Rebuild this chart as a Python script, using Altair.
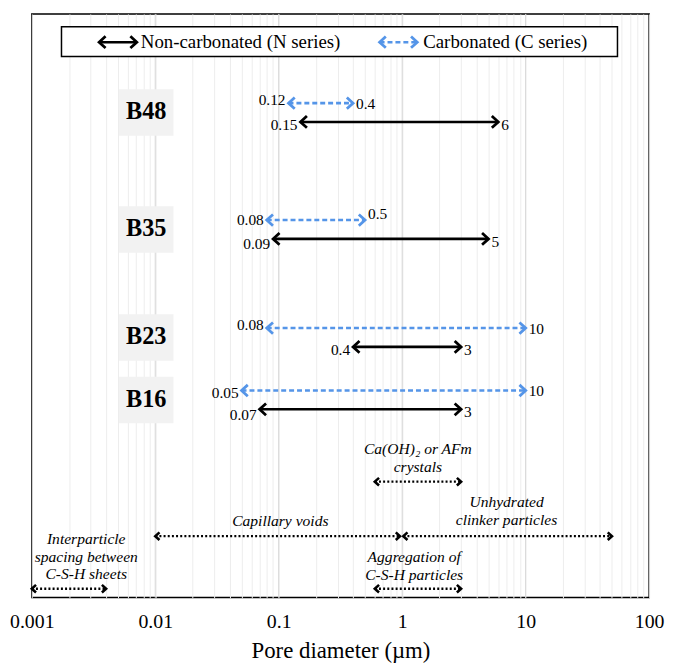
import altair as alt
import pandas as pd

# ---------------- data ----------------
samples = ["B48", "B35", "B23", "B16"]
n_min = [0.15, 0.09, 0.4, 0.07]
n_max = [6, 5, 3, 3]
c_min = [0.12, 0.08, 0.08, 0.05]
c_max = [0.4, 0.5, 10, 10]

ann_lines = [["Ca(OH)\u2082 or AFm", "crystals"], ["Capillary voids"],
             ["Unhydrated", "clinker particles"],
             ["Interparticle", "spacing between", "C-S-H sheets"],
             ["Aggregation of", "C-S-H particles"]]
ann_lo = [0.6, 0.01, 1.02, 0.001, 0.6]
ann_hi = [3, 0.96, 50, 0.004, 3]

legend_labels = ["Non-carbonated (N series)", "Carbonated (C series)"]
tick_decades = [0.001, 0.01, 0.1, 1, 10, 100]

# ---------------- layout (y in px from top of plot area) ----------------
W, H = 623, 589
row_y = [99.5, 217.5, 326.5, 389.5]
half_gap = 9.5
c_dy_left = [-3, 0, -3, 3]
c_dy_right = [1, -6, 1, 1]
n_dy_left = [3, 5, 3, 6]
n_dy_right = [3, 3, 3, 3]
box_x = (0.00509, 0.01405)
box_text_x = 0.00845
box_half = 23.5

ann_y = [472, 527, 527, 580, 580]
ann_text_x = [1.34, 0.103, 7.0, 0.00276, 1.25]
ann_text_y = [[439, 457], [512], [493, 511], [530, 548, 565], [548, 566]]

leg_box = dict(x=0.00174, x2=55.4, y=13, y2=43)
leg_y = 28.5
leg_arrow = [(0.00351, 0.00709), (0.656, 1.324)]
leg_text_x = [0.00764, 1.48]

BLUE = "#5595e8"
FONT = "Liberation Serif"

# ---------------- frames ----------------
lines = []
labels = []
for i, s in enumerate(samples):
    yc = row_y[i] - half_gap
    yn = row_y[i] + half_gap
    lines.append(dict(series="C", x=c_min[i], x2=c_max[i], y=yc))
    lines.append(dict(series="N", x=n_min[i], x2=n_max[i], y=yn))
    labels.append(dict(side="L", x=c_min[i], y=yc + c_dy_left[i], t=f"{c_min[i]:g}"))
    labels.append(dict(side="R", x=c_max[i], y=yc + c_dy_right[i], t=f"{c_max[i]:g}"))
    labels.append(dict(side="L", x=n_min[i], y=yn + n_dy_left[i], t=f"{n_min[i]:g}"))
    labels.append(dict(side="R", x=n_max[i], y=yn + n_dy_right[i], t=f"{n_max[i]:g}"))
for k, (a, b) in enumerate(leg_arrow):
    lines.append(dict(series=["N", "C"][k], x=a, x2=b, y=leg_y))
lines_df = pd.DataFrame(lines)
n_df = lines_df[lines_df["series"] == "N"].reset_index(drop=True)
c_df = lines_df[lines_df["series"] == "C"].reset_index(drop=True)
labels_df = pd.DataFrame(labels)
lab_l_df = labels_df[labels_df["side"] == "L"].reset_index(drop=True)
lab_r_df = labels_df[labels_df["side"] == "R"].reset_index(drop=True)

boxes_df = pd.DataFrame([dict(s=s, x=box_x[0], x2=box_x[1], y=row_y[i] - box_half,
                              y2=row_y[i] + box_half, tx=box_text_x, ty=row_y[i])
                         for i, s in enumerate(samples)])

ann_df = pd.DataFrame([dict(x=ann_lo[k], x2=ann_hi[k], y=ann_y[k]) for k in range(len(ann_lo))])
ann_txt_df = pd.DataFrame([dict(t=line, x=ann_text_x[k], y=ann_text_y[k][j])
                           for k, ls in enumerate(ann_lines) for j, line in enumerate(ls)])

leg_box_df = pd.DataFrame([leg_box])
leg_txt_df = pd.DataFrame([dict(t=legend_labels[k], x=leg_text_x[k], y=leg_y) for k in range(2)])
dec_df = pd.DataFrame({"x": tick_decades[1:-1], "y": [0] * 4, "y2": [H] * 4})

grid_vals = []
for d in tick_decades[:-1]:
    for m in range(1, 10):
        grid_vals.append(round(d * m, 6))
grid_vals.append(tick_decades[-1])

is_dec = "abs(log(datum.value)/LN10 - round(log(datum.value)/LN10)) < 0.000001"

xscale = alt.Scale(type="log", domain=[0.001, 100], nice=False)
yscale = alt.Scale(domain=[0, H], reverse=True, nice=False, zero=False)
x_axis = alt.Axis(values=grid_vals, grid=True, ticks=False, domain=False,
                  labelExpr=f"{is_dec} ? format(datum.value, '~g') : ''",
                  labelOverlap=False, labelFlush=False,
                  labelFont=FONT, labelFontSize=20, labelColor="black",
                  labelPadding=14,
                  gridColor="#ededed", gridWidth=1,
                  title="Pore diameter (\u00b5m)", titleFont=FONT,
                  titleFontSize=23, titleFontWeight="normal", titleColor="black",
                  titlePadding=8)


def X(f):
    return alt.X(f, type="quantitative", scale=xscale, axis=x_axis)


def Y(f):
    return alt.Y(f, type="quantitative", scale=yscale, axis=None)


LEFT = "M1.1,-1L0,0L1.1,1"
RIGHT = "M-1.1,-1L0,0L-1.1,1"


def arrow(df, col, dash, width, size):
    base = alt.Chart(df)
    kw = dict(strokeWidth=width, color=col)
    if dash:
        kw["strokeDash"] = dash
    r = base.mark_rule(**kw).encode(x=X("x"), x2="x2:Q", y=Y("y"))
    hl = base.mark_point(shape=LEFT, filled=False, size=size, strokeWidth=width + 0.2,
                         color=col, opacity=1).encode(x=X("x"), y=Y("y"))
    hr = base.mark_point(shape=RIGHT, filled=False, size=size, strokeWidth=width + 0.2,
                         color=col, opacity=1).encode(x=X("x2"), y=Y("y"))
    return [r, hl, hr]


dec_rules = alt.Chart(dec_df).mark_rule(color="#d6d6d6", strokeWidth=1).encode(
    x=X("x"), y=Y("y"), y2="y2:Q")

lab_l = alt.Chart(lab_l_df).mark_text(
    align="right", baseline="middle", dx=-3, font=FONT, fontSize=15.5, color="black").encode(
    x=X("x"), y=Y("y"), text="t:N")
lab_r = alt.Chart(lab_r_df).mark_text(
    align="left", baseline="middle", dx=3, font=FONT, fontSize=15.5, color="black").encode(
    x=X("x"), y=Y("y"), text="t:N")

boxes = alt.Chart(boxes_df).mark_rect(color="#f2f2f2").encode(
    x=X("x"), x2="x2:Q", y=Y("y"), y2="y2:Q")
box_txt = alt.Chart(boxes_df).mark_text(font=FONT, fontSize=24.5, fontWeight="bold", color="black",
                                        baseline="middle").encode(x=X("tx"), y=Y("ty"), text="s:N")

ann_txt = alt.Chart(ann_txt_df).mark_text(font=FONT, fontSize=15.7, fontStyle="italic", color="black",
                                          baseline="middle").encode(x=X("x"), y=Y("y"), text="t:N")

leg_rect = alt.Chart(leg_box_df).mark_rect(fill="white", stroke="black", strokeWidth=1.5).encode(
    x=X("x"), x2="x2:Q", y=Y("y"), y2="y2:Q")
leg_txt = alt.Chart(leg_txt_df).mark_text(font=FONT, fontSize=19, color="black", align="left",
                                          baseline="middle").encode(x=X("x"), y=Y("y"), text="t:N")

layers = [dec_rules, leg_rect, boxes, box_txt, lab_l, lab_r]
layers += arrow(n_df, "black", None, 2.6, 140)
layers += arrow(c_df, BLUE, [5, 3], 2.6, 130)
layers += arrow(ann_df, "black", [2, 2.2], 2.4, 60)
layers += [ann_txt, leg_txt]

chart = alt.layer(*layers).properties(
    width=W, height=H,
    autosize=alt.AutoSizeParams(type="none"),
    padding={"left": 24, "top": 3, "right": 16, "bottom": 64},
    background="white"
).configure_view(stroke="black", strokeWidth=1.5)

chart.save("out.html", embed_options={"renderer": "svg", "actions": False})
